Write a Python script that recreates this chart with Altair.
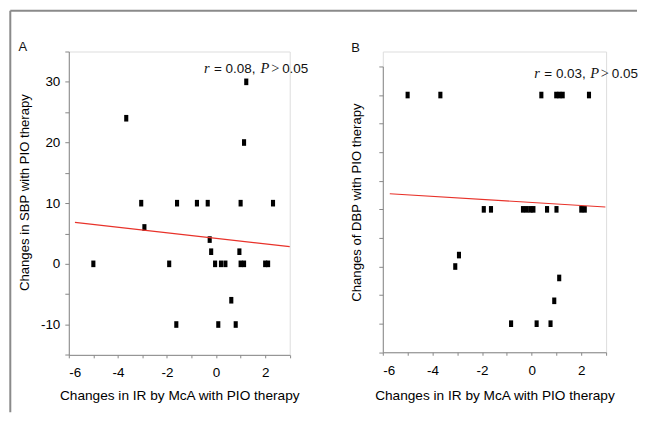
import altair as alt
import pandas as pd

# ---- data ----
a_x = [-3.66, 1.23, 1.14, -3.05, -1.59, -0.78, -0.34, 1.0, 2.32, -2.92, -0.26, -0.2, 0.95,
       -5.0, -1.91, -0.04, 0.2, 0.38, 1.0, 1.14, 2.0, 2.12, 0.62, -1.62, 0.09, 0.8]
a_y = [24, 30, 20, 10, 10, 10, 10, 10, 10, 6, 4, 2, 2,
       0, 0, 0, 0, 0, 0, 0, 0, 0, -6, -10, -10, -10]

b_x = [-5.0, -3.68, 0.39, 0.99, 1.12, 1.25, 2.31, -1.93, -1.64, -0.35, -0.2, -0.05, 0.07,
       0.62, 1.0, 2.0, 2.14, -2.93, -3.08, 1.11, 0.91, -0.83, 0.2, 0.76]
b_y = [30, 30, 30, 30, 30, 30, 30, 10, 10, 10, 10, 10, 10,
       10, 10, 10, 10, 2, 0, -2, -6, -10, -10, -10]

a_fit_x = [-5.75, 3.0]
a_fit_y = [6.83, 2.84]
b_fit_x = [-5.72, 2.97]
b_fit_y = [12.73, 10.41]

x_ticks = [-6, -5, -4, -3, -2, -1, 0, 1, 2, 3]
y_ticks = [-15, -10, -5, 0, 5, 10, 15, 20, 25, 30, 35]

x_title = "Changes in IR by McA with PIO therapy"
a_y_title = "Changes in SBP with PIO therapy"
b_y_title = "Changes of DBP with PIO therapy"
a_stat = ["r", "= 0.08,", "P", ">", "0.05"]
b_stat = ["r", "= 0.03,", "P", ">", "0.05"]

SANS = "Liberation Sans"
SERIF = "Liberation Serif"
RECT = "M-0.62,-1L0.62,-1L0.62,1L-0.62,1Z"
one = pd.DataFrame({"k": [0]})


def txt(s, x, y, font=SANS, size=13.5, style="normal"):
    return alt.Chart(one).mark_text(
        align="left", baseline="alphabetic", font=font, fontSize=size,
        fontStyle=style, color="#111"
    ).encode(x=alt.value(x), y=alt.value(y), text=alt.value(s))


def stat_layers(words, xs, y):
    fonts = [(SERIF, "italic", 14.5), (SANS, "normal", 13.5), (SERIF, "italic", 14.5),
             (SERIF, "normal", 14.5), (SANS, "normal", 13.5)]
    return [txt(w, x, y, f, s, st) for w, x, (f, st, s) in zip(words, xs, fonts)]


def panel(xs, ys, fx, fy, w, h, yrange, y_axis, x_axis, extra):
    df = pd.DataFrame({"x": xs, "y": ys})
    fit = pd.DataFrame({"x": fx, "y": fy})
    xscale = alt.Scale(domain=[-6, 3], nice=False, zero=False)
    if yrange is None:
        yscale = alt.Scale(domain=[-15, 35], nice=False, zero=False)
    else:
        yscale = alt.Scale(domain=[-15, 35], nice=False, zero=False, range=yrange)
    pts = alt.Chart(df).mark_point(
        shape=RECT, filled=True, color="black", size=44, opacity=1, strokeWidth=0
    ).encode(
        x=alt.X("x:Q", scale=xscale, axis=x_axis),
        y=alt.Y("y:Q", scale=yscale, axis=y_axis),
    )
    line = alt.Chart(fit).mark_line(color="#e8322a", strokeWidth=1.2).encode(
        x=alt.X("x:Q", scale=xscale, axis=x_axis),
        y=alt.Y("y:Q", scale=yscale, axis=y_axis),
    )
    return alt.layer(pts, line, *extra).properties(width=w, height=h)


def x_axis(tp):
    return alt.Axis(
        title=x_title, values=x_ticks,
        labelExpr="datum.value % 2 == 0 ? '' + datum.value : ''",
        labelOverlap=False, tickSize=3, labelPadding=8, titlePadding=tp, grid=False,
        titleFontSize=13.7, titleFontWeight="normal", labelFontSize=13.5,
    )


a_yaxis = alt.Axis(
    title=a_y_title, values=y_ticks,
    labelExpr="datum.value % 10 == 0 ? '' + datum.value : ''",
    labelOverlap=False, tickSize=4, labelPadding=5, titlePadding=9, titleY=141,
    grid=False, titleFontSize=13.2, titleFontWeight="normal", labelFontSize=13.5,
)
b_yaxis = alt.Axis(
    title=b_y_title, values=y_ticks, labels=False,
    tickSize=4, titlePadding=15, titleY=151, grid=False, titleFontSize=13.2,
    titleFontWeight="normal",
)

frame = [
    alt.Chart(one).mark_rule(color="#8a8a8a", strokeWidth=2).encode(
        x=alt.value(-58.7), y=alt.value(-41), y2=alt.value(362)),
    alt.Chart(one).mark_rule(color="#8a8a8a", strokeWidth=2).encode(
        x=alt.value(-58.7), x2=alt.value(570), y=alt.value(-41)),
]

a_extra = frame + [txt("A", -50.4, -0.7, size=13)] + stat_layers(
    a_stat, [135.6, 145.6, 192.3, 203.0, 214.0], 21.7)
b_extra = [txt("B", -31.6, 0.7, size=13)] + stat_layers(
    b_stat, [152.0, 162.0, 208.0, 218.7, 229.7], 26.7)

pa = panel(a_x, a_y, a_fit_x, a_fit_y, 221.6, 304.3, None, a_yaxis, x_axis(9), a_extra)
pb = panel(b_x, b_y, b_fit_x, b_fit_y, 224, 301.7, [301.7, 15], b_yaxis, x_axis(11.5), b_extra)

chart = alt.hconcat(pa, pb, spacing=93, bounds="flush").properties(
    padding=0
).configure_view(stroke=None).configure_axis(
    labelFont=SANS, titleFont=SANS,
    labelColor="#111", titleColor="#111", domainColor="#111", tickColor="#111",
    domainWidth=1, tickWidth=1,
).configure(font=SANS, background="white")

chart.save("out.html", embed_options={"renderer": "svg", "actions": False})
